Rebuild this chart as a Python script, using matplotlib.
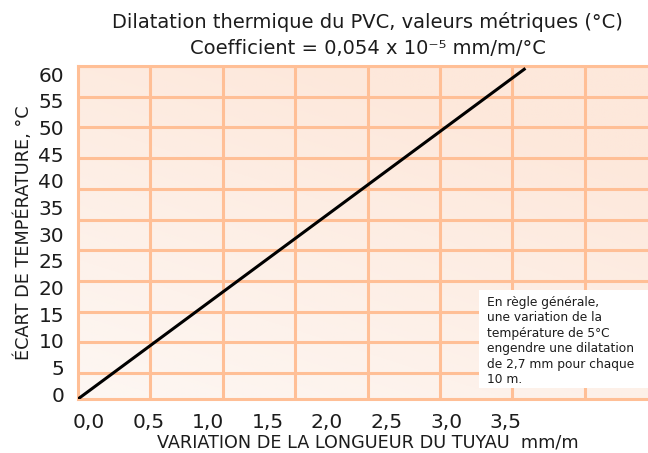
import matplotlib.pyplot as plt
import numpy as np

# valeurs de la courbe (variation mm/m, ecart de temperature °C)
dilatation = [0.0, 3.76]
temperature = [0.0, 62.0]

x_ticks = [0.0, 0.5, 1.0, 1.5, 2.0, 2.5, 3.0, 3.5]
x_labels = ['0,0', '0,5', '1,0', '1,5', '2,0', '2,5', '3,0', '3,5']
y_ticks = list(range(0, 61, 5))

note = ("En règle générale,\nune variation de la\ntempérature de 5°C\n"
        "engendre une dilatation\nde 2,7 mm pour chaque\n10 m.")

plt.rcParams['font.family'] = ['DejaVu Sans']
text_color = '#1c1c1c'
grid_color = '#ffbf96'

# echelle : 119 px par mm/m, 5.333 px par °C
fig = plt.figure(figsize=(6.48, 4.53), dpi=100)
ax = fig.add_axes([78 / 648, 54 / 453, 579 / 648, 333 / 453])
ax.set_xlim(0, 579 / 119)
ax.set_ylim(0, 333 / 5.333)

# fond en degrade (clair en bas a gauche, plus peche en haut a droite)
gx, gy = np.meshgrid(np.linspace(0, 1, 200), np.linspace(0, 1, 200))
t = np.clip(gx * 0.45 + gy * 0.8, 0, 1)
c0 = np.array([253, 247, 243]) / 255
c1 = np.array([253, 232, 219]) / 255
img = c0[None, None, :] * (1 - t[..., None]) + c1[None, None, :] * t[..., None]
ax.imshow(img, extent=[0, 1, 0, 1], transform=ax.transAxes, origin='lower',
          aspect='auto', zorder=0)

# quadrillage decoratif
for k in range(1, 8):
    ax.plot([k / 8, k / 8], [0, 1], transform=ax.transAxes, color=grid_color,
            lw=2.2, zorder=1, solid_capstyle='butt')
for k in range(0, 11):
    f = 1 - k * 30.7 / 333
    ax.plot([0, 1], [f, f], transform=ax.transAxes, color=grid_color,
            lw=2.2, zorder=1, solid_capstyle='butt')
for s in ax.spines.values():
    s.set_color(grid_color)
    s.set_linewidth(2.2)
ax.spines['right'].set_visible(False)

ax.plot(dilatation, temperature, color='black', lw=2.2, zorder=3,
        solid_capstyle='butt')

# les etiquettes sont un peu decalees par rapport au coin du graphique
ax.set_xticks(np.array(x_ticks) + 11 / 119, labels=x_labels)
ax.set_yticks(np.array(y_ticks) + 5 / 5.333, labels=[str(v) for v in y_ticks])
ax.tick_params(length=0, labelsize=14.5, colors=text_color)
ax.tick_params(axis='x', pad=10)
ax.tick_params(axis='y', pad=10)

ax.set_xlabel('VARIATION DE LA LONGUEUR DU TUYAU  mm/m', fontsize=12.7,
              color=text_color, labelpad=1)
ax.set_ylabel('ÉCART DE TEMPÉRATURE, °C', fontsize=12.7, color=text_color,
              labelpad=4)
ax.set_title('Dilatation thermique du PVC, valeurs métriques (°C)\n'
             'Coefficient = 0,054 x 10\u207b\u2075 mm/m/°C',
             fontsize=14, color=text_color, pad=9, linespacing=1.45)

# encadre blanc avec la note
ax.add_patch(plt.Rectangle((0.6926, 0.033), 0.4, 0.294, transform=ax.transAxes,
                           facecolor='white', edgecolor='none', zorder=4))
ax.text(0.7064, 0.31, note, transform=ax.transAxes, fontsize=8.8,
        color=text_color, va='top', ha='left', linespacing=1.25, zorder=5)

fig.savefig('out.png', dpi=100)
